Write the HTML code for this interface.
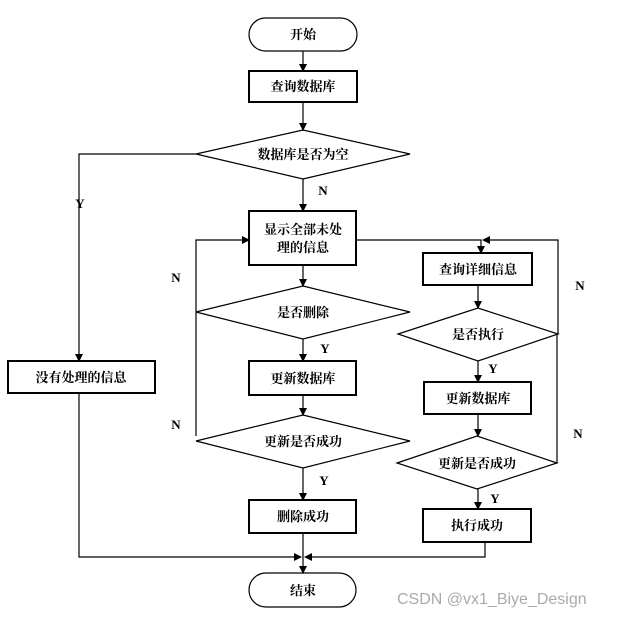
<!DOCTYPE html>
<html><head><meta charset="utf-8"><style>
html,body{margin:0;padding:0;background:#fff;}
svg text{font-family:"Liberation Serif","Noto Serif CJK SC","Noto Sans CJK SC",serif;font-weight:bold;font-size:13px;fill:#000;}
.w{font-family:"Liberation Sans",sans-serif;font-weight:normal;font-size:16px;fill:#aaa;}
</style></head><body>
<svg width="630" height="617" viewBox="0 0 630 617" xmlns="http://www.w3.org/2000/svg">
<defs><marker id="a" markerWidth="8" markerHeight="8" refX="7" refY="4" orient="auto" markerUnits="userSpaceOnUse"><path d="M0,0 L8,4 L0,8 z" fill="#000"/></marker></defs>
<g fill="#fff" stroke="#000" stroke-width="1.2">
<rect x="249" y="18" width="108" height="33" rx="16.5"/>
<rect x="249" y="71" width="108" height="31" stroke-width="2"/>
<polygon points="196,154 303,130 410,154 303,179"/>
<rect x="249" y="211" width="107" height="54" stroke-width="2"/>
<rect x="8" y="361" width="147" height="32" stroke-width="2"/>
<polygon points="196,312 303,286 410,312 303,339"/>
<rect x="249" y="361" width="107" height="34" stroke-width="2"/>
<polygon points="196,441 303,415 410,441 303,468"/>
<rect x="249" y="500" width="107" height="33" stroke-width="2"/>
<rect x="249" y="573" width="107" height="34" rx="17"/>
<rect x="423" y="253" width="109" height="32" stroke-width="2"/>
<polygon points="398,334 478,308 558,334 478,361"/>
<rect x="424" y="382" width="107" height="32" stroke-width="2"/>
<polygon points="397,463 477,436 557,463 477,489"/>
<rect x="423" y="509" width="108" height="33" stroke-width="2"/>
</g>
<g fill="none" stroke="#000" stroke-width="1.2">
<line x1="303" y1="51" x2="303" y2="71" marker-end="url(#a)"/>
<line x1="303" y1="102" x2="303" y2="130" marker-end="url(#a)"/>
<line x1="303" y1="179" x2="303" y2="211" marker-end="url(#a)"/>
<polyline points="196,154 79,154 79,361" marker-end="url(#a)"/>
<line x1="303" y1="265" x2="303" y2="286" marker-end="url(#a)"/>
<line x1="303" y1="339" x2="303" y2="361" marker-end="url(#a)"/>
<line x1="303" y1="395" x2="303" y2="415" marker-end="url(#a)"/>
<line x1="303" y1="468" x2="303" y2="500" marker-end="url(#a)"/>
<polyline points="196,436 196,240 249,240" marker-end="url(#a)"/>
<line x1="303" y1="533" x2="303" y2="573" marker-end="url(#a)"/>
<polyline points="79,393 79,557 301,557" marker-end="url(#a)"/>
<polyline points="485,542 485,557 305,557" marker-end="url(#a)"/>
<polyline points="356,240 481,240 481,253" marker-end="url(#a)"/>
<polyline points="558,334 558,240 483,240" marker-end="url(#a)"/>
<line x1="478" y1="285" x2="478" y2="308" marker-end="url(#a)"/>
<line x1="478" y1="361" x2="478" y2="382" marker-end="url(#a)"/>
<line x1="478" y1="414" x2="478" y2="436" marker-end="url(#a)"/>
<polyline points="557,463 557,334"/>
<line x1="478" y1="489" x2="478" y2="509" marker-end="url(#a)"/>
</g>
<g text-anchor="middle">
<text x="303" y="39">开始</text>
<text x="303" y="91">查询数据库</text>
<text x="303" y="159">数据库是否为空</text>
<text x="303" y="234">显示全部未处</text>
<text x="303" y="252">理的信息</text>
<text x="81" y="382">没有处理的信息</text>
<text x="303" y="317">是否删除</text>
<text x="303" y="383">更新数据库</text>
<text x="303" y="446">更新是否成功</text>
<text x="303" y="521">删除成功</text>
<text x="303" y="595">结束</text>
<text x="478" y="274">查询详细信息</text>
<text x="478" y="339">是否执行</text>
<text x="478" y="403">更新数据库</text>
<text x="477" y="468">更新是否成功</text>
<text x="477" y="530">执行成功</text>
<text x="323" y="195">N</text>
<text x="80" y="208">Y</text>
<text x="176" y="282">N</text>
<text x="176" y="429">N</text>
<text x="325" y="353">Y</text>
<text x="324" y="485">Y</text>
<text x="493" y="373">Y</text>
<text x="495" y="503">Y</text>
<text x="580" y="290">N</text>
<text x="578" y="438">N</text>
</g>
<text class="w" x="397" y="604">CSDN @vx1_Biye_Design</text>
</svg>
</body></html>
